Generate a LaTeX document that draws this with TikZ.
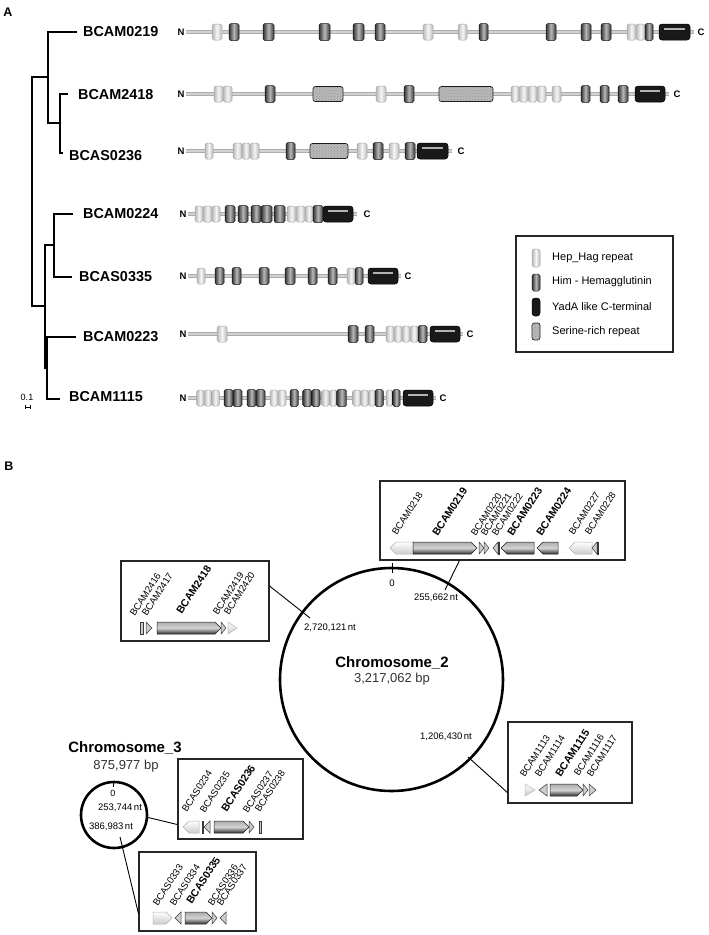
\documentclass[tikz,border=0pt]{standalone}
\usepackage{fontspec}
\setmainfont{Liberation Sans}
\usetikzlibrary{patterns}
\tikzset{
 hepst/.style={draw=gray!70, line width=0.5pt, rounded corners=1.8pt, left color=gray!55, right color=gray!55, middle color=gray!8},
 himst/.style={draw=gray!20!black, line width=0.5pt, rounded corners=1.8pt, left color=gray!40!black, right color=gray!40!black, middle color=gray!55},
 serst/.style={draw=gray!20!black, line width=0.7pt, rounded corners=2.5pt, fill=gray!55, postaction={pattern=crosshatch dots, pattern color=gray!85}},
 yadast/.style={draw=black, line width=0.5pt, rounded corners=3pt, fill=black!90},
 bbout/.style={gray!65, line width=3.4pt},
 bbin/.style={gray!35, line width=1.6pt},
 tree/.style={line width=1.2pt, black},
 treelab/.style={font=\fontsize{14.4}{16}\selectfont\bfseries, anchor=west, inner sep=0pt},
 nclab/.style={font=\fontsize{9.5}{10}\selectfont\bfseries, inner sep=0pt},
 leglab/.style={font=\fontsize{11}{12}\selectfont, anchor=west, inner sep=0pt},
 glab/.style={font=\fontsize{9.5}{10}\selectfont, rotate=57, anchor=south west, inner sep=0pt, text=black},
 glabb/.style={font=\fontsize{10.5}{11}\selectfont\bfseries, rotate=57, anchor=south west, inner sep=0pt},
 poslab/.style={font=\fontsize{9.5}{10}\selectfont, inner sep=0pt},
 chrlab/.style={font=\fontsize{15}{17}\selectfont\bfseries, inner sep=0pt},
 bplab/.style={font=\fontsize{13}{15}\selectfont, inner sep=0pt, text=black!80},
 panel/.style={font=\fontsize{12.5}{14}\selectfont\bfseries, inner sep=0pt},
 gbox/.style={draw=black!85, line width=1.1pt, inner sep=0pt},
 conn/.style={line width=0.9pt, black},
 gdark/.style={draw=gray!25!black, line width=0.5pt, top color=gray!65, bottom color=gray!35!black, middle color=gray!35},
 glight/.style={draw=gray!60, line width=0.5pt, top color=white, bottom color=gray!40},
 gsmall/.style={draw=gray!45!black, line width=0.5pt, fill=gray!40},
}
\newcommand{\backbone}[5]{%
 \draw[bbout] (#2,#1) -- (#3,#1); \draw[bbin] (#2,#1) -- (#3,#1);
 \node[nclab] (N#1) at (#4,#1) {N}; \node[nclab] (C#1) at (#5,#1) {C};}
\newcommand{\heps}[2]{\foreach \xa/\xb in {#2} {\draw[hepst] (\xa,#1-8) rectangle (\xb,#1+8);}}
\newcommand{\hims}[2]{\foreach \xa/\xb in {#2} {\draw[himst] (\xa,#1-8.5) rectangle (\xb,#1+8.5);}}
\newcommand{\sers}[2]{\foreach \xa/\xb in {#2} {\draw[serst] (\xa,#1-7.5) rectangle (\xb,#1+7.5);}}
\newcommand{\yada}[3]{\draw[yadast] (#2,#1-8) rectangle (#3,#1+8); \fill[gray!60] (#2+5,#1-4.5) rectangle (#3-5,#1-2);}
\newcommand{\grarr}[4]{\draw[#1] (#2,#4-6) -- (#3-6,#4-6) -- (#3,#4) -- (#3-6,#4+6) -- (#2,#4+6) -- cycle;}
\newcommand{\glarr}[4]{\draw[#1] (#3,#4-6) -- (#2+6,#4-6) -- (#2,#4) -- (#2+6,#4+6) -- (#3,#4+6) -- cycle;}
\newcommand{\grtri}[4]{\draw[#1] (#2,#4-6) -- (#3,#4) -- (#2,#4+6) -- cycle;}
\newcommand{\gltri}[4]{\draw[#1] (#3,#4-6) -- (#2,#4) -- (#3,#4+6) -- cycle;}
\newcommand{\gbar}[4]{\draw[#1] (#2,#4-6) rectangle (#3,#4+6);}
\begin{document}
\begin{tikzpicture}[x=1pt,y=-1pt]
\useasboundingbox[fill=white] (0,0) rectangle (709,935);
% ---------- Panel A ----------
\node[panel] (pA) at (8,12) {A};
% tree
\draw[tree] (77,32) -- (48,32) -- (48,123) -- (60,123);
\draw[tree] (68,94) -- (60,94) -- (60,153) -- (63,153);
\draw[tree] (48,77) -- (32,77) -- (32,306) -- (45,306);
\draw[tree] (54,245) -- (45,245) -- (45,368) -- (47,368);
\draw[tree] (73,214) -- (54,214) -- (54,277) -- (72,277);
\draw[tree] (76,337) -- (47,337) -- (47,399) -- (60,399);
\node[treelab] (t0219) at (83,32) {BCAM0219};
\node[treelab] (t2418) at (78,95) {BCAM2418};
\node[treelab] (t0236) at (69,156) {BCAS0236};
\node[treelab] (t0224) at (83,214) {BCAM0224};
\node[treelab] (t0335) at (79,277) {BCAS0335};
\node[treelab] (t0223) at (83,337) {BCAM0223};
\node[treelab] (t1115) at (69,397) {BCAM1115};
\node[font=\fontsize{9}{10}\selectfont, inner sep=0pt] (sc) at (27,397) {0.1};
\draw[line width=0.8pt] (25,407) -- (30,407) (25,405) -- (25,409) (30,405) -- (30,409);
% domain rows
\backbone{32}{186}{694}{181}{701}
\heps{32}{212/222, 423/433, 458/467, 627/636, 636/645}
\hims{32}{229/239, 263/274, 319/330, 353/364, 375/385, 479/488, 546/556, 581/591, 601/611, 645/653}
\yada{32}{659}{690}
\backbone{94}{186}{669}{181}{677}
\heps{94}{214/223, 223/232, 376/386, 511/519, 519/528, 528/537, 537/546, 552/561}
\hims{94}{265/275, 404/414, 581/590, 600/609, 618/628}
\sers{94}{313/343, 439/493}
\yada{94}{635}{665}
\backbone{151}{186}{452}{181}{461}
\heps{151}{205/213, 233/242, 242/250, 250/259, 357/367, 389/399}
\hims{151}{286/295, 373/383, 405/415}
\sers{151}{310/348}
\yada{151}{417}{448}
\backbone{214}{188}{357}{183}{367}
\heps{214}{195/203, 203/212, 212/220, 287/296, 296/305, 305/313}
\hims{214}{225/235, 238/248, 251/261, 261/272, 274/285, 313/323}
\yada{214}{323}{353}
\backbone{276}{188}{401}{183}{408}
\heps{276}{197/205, 347/355}
\hims{276}{215/224, 232/241, 259/269, 285/295, 308/317, 328/337, 355/363}
\yada{276}{368}{398}
\backbone{334}{188}{463}{183}{470}
\heps{334}{217/227, 386/394, 394/402, 402/410, 410/418}
\hims{334}{348/358, 365/374, 418/427}
\yada{334}{430}{460}
\backbone{398}{188}{436}{183}{443}
\heps{398}{196.7/204, 204/211.7, 211.7/219.3, 270/278, 278/286, 321.7/329.3, 329.3/336.7, 352.7/360.7, 360.7/368.3, 368.3/375, 386/392.7}
\hims{398}{224/233, 233/242, 247/256, 256/265, 290/298.3, 302.7/311.7, 311.7/320, 336.7/346.7, 375/383.3, 392.7/400}
\yada{398}{403}{433}
% legend
\node[gbox, minimum width=157pt, minimum height=116pt] (legend) at (594.5,294) {};
\draw[hepst] (532,249) rectangle (540,267);
\draw[himst] (532,274) rectangle (540,291);
\draw[yadast] (532,298) rectangle (540,316);
\draw[serst] (532,323) rectangle (540,340);
\node[leglab] (lg1) at (552,258) {Hep\_Hag repeat};
\node[leglab] (lg2) at (552,282) {Him - Hemagglutinin};
\node[leglab] (lg3) at (552,307) {YadA like C-terminal};
\node[leglab] (lg4) at (552,332) {Serine-rich repeat};
% ---------- Panel B ----------
\node[panel] (pB) at (9,466) {B};
% Chromosome 2
\node[circle, draw, line width=2.6pt, minimum size=223pt, inner sep=0pt] (chr2) at (391.5,679.5) {};
\draw[line width=1pt] (392,563) -- (392,573);
\node[poslab] (z2) at (392,583) {0};
\node[poslab] (p255) at (436,598) {255,662\,nt};
\node[poslab] (p2720) at (330,628) {2,720,121\,nt};
\node[poslab] (p1206) at (446,737) {1,206,430\,nt};
\node[chrlab] (c2name) at (392,663) {Chromosome\_2};
\node[bplab] (c2bp) at (392,679) {3,217,062 bp};
% Chromosome 3
\node[chrlab] (c3name) at (125,748) {Chromosome\_3};
\node[bplab] (c3bp) at (126,766) {875,977 bp};
\node[circle, draw, line width=2.6pt, minimum size=66pt, inner sep=0pt] (chr3) at (114,815) {};
\draw[line width=1pt] (113,781) -- (113,787);
\node[font=\fontsize{9}{10}\selectfont, inner sep=0pt] (z3) at (113,793) {0};
\node[poslab] (p253) at (120,808) {253,744\,nt};
\node[poslab] (p386) at (111,827) {386,983\,nt};
% boxes
\node[gbox, minimum width=245pt, minimum height=79pt] (boxA) at (502.5,520.5) {};
\node[gbox, minimum width=148pt, minimum height=80pt] (boxB) at (195,601) {};
\node[gbox, minimum width=124pt, minimum height=81pt] (boxC) at (570,762.5) {};
\node[gbox, minimum width=125pt, minimum height=80pt] (boxD) at (240.5,799) {};
\node[gbox, minimum width=117pt, minimum height=79pt] (boxE) at (197.5,891.5) {};
% connectors
\coordinate (ca) at (445,590);
\coordinate (cb) at (310,618);
\coordinate (cc) at (468,757);
\coordinate (cd) at (146,817);
\coordinate (ce) at (120,837);
\draw[conn] (ca) -- ([xshift=80pt]boxA.south west);
\draw[conn] (cb) -- ([yshift=15pt]boxB.east);
\draw[conn] (cc) -- ([yshift=11pt]boxC.south west);
\draw[conn] (cd) -- ([yshift=15pt]boxD.south west);
\draw[conn] (ce) -- ([yshift=18pt]boxE.south west);
% box A genes (y=548)
\glarr{glight}{390}{413}{548}
\grarr{gdark}{413}{477}{548}
\grtri{gsmall}{479}{484}{548}
\grtri{gsmall}{484}{489}{548}
\gltri{gsmall}{493}{498}{548}
\gbar{gsmall}{498}{499.5}{548}
\glarr{gdark}{501}{534}{548}
\glarr{gdark}{537}{558}{548}
\glarr{glight}{569}{592}{548}
\gltri{gsmall}{592}{597}{548}
\gbar{gsmall}{597}{598.5}{548}
\node[glab] (g0218) at (397,536) {BCAM0218};
\node[glabb] (g0219) at (438,537) {BCAM0219};
\node[glab] (g0220) at (476,537) {BCAM0220};
\node[glab] (g0221) at (486,537) {BCAM0221};
\node[glab] (g0222) at (497,537) {BCAM0222};
\node[glabb] (g0223) at (513,537) {BCAM0223};
\node[glabb] (g0224) at (542,537) {BCAM0224};
\node[glab] (g0227) at (574,536) {BCAM0227};
\node[glab] (g0228) at (590,536) {BCAM0228};
% box B genes (y=628)
\gbar{gsmall}{140}{143}{628}
\grtri{gsmall}{146}{152}{628}
\grarr{gdark}{157}{221}{628}
\grtri{gsmall}{221}{226}{628}
\grtri{glight}{228}{237}{628}
\node[glab] (g2416) at (135,617) {BCAM2416};
\node[glab] (g2417) at (147,617) {BCAM2417};
\node[glabb] (g2418) at (182,615) {BCAM2418};
\node[glab] (g2419) at (218,616) {BCAM2419};
\node[glab] (g2420) at (229,616) {BCAM2420};
% box C genes (y=790)
\grtri{glight}{525}{535}{790}
\gltri{gsmall}{539}{547}{790}
\grarr{gdark}{550}{583}{790}
\grtri{gsmall}{583}{588}{790}
\grtri{gsmall}{589}{596}{790}
\node[glab] (g1113) at (525,778) {BCAM1113};
\node[glab] (g1114) at (540,778) {BCAM1114};
\node[glabb] (g1115) at (561,778) {BCAM1115};
\node[glab] (g1116) at (579,777) {BCAM1116};
\node[glab] (g1117) at (592,778) {BCAM1117};
% box D genes (y=827)
\glarr{glight}{183}{199}{827}
\gbar{gsmall}{202}{203.5}{827}
\gltri{gsmall}{204}{210}{827}
\grarr{gdark}{214}{249}{827}
\grtri{gsmall}{249}{254}{827}
\gbar{gsmall}{259}{261}{827}
\node[glab] (s0234) at (187,813) {BCAS0234};
\node[glab] (s0235) at (205,814) {BCAS0235};
\node[glabb] (s0236) at (227,813) {BCAS0236};
\node[glab] (s0237) at (248,814) {BCAS0237};
\node[glab] (s0238) at (260,813) {BCAS0238};
% box E genes (y=918)
\grarr{glight}{153}{172}{918}
\gltri{gsmall}{175}{181}{918}
\grarr{gdark}{185}{212}{918}
\grtri{gsmall}{212}{217}{918}
\gltri{gsmall}{220}{226}{918}
\node[glab] (s0333) at (158,907) {BCAS0333};
\node[glab] (s0334) at (175,907) {BCAS0334};
\node[glabb] (s0335) at (192,905) {BCAS0335};
\node[glab] (s0336) at (213,907) {BCAS0336};
\node[glab] (s0337) at (222,907) {BCAS0337};
\end{tikzpicture}
\end{document}
